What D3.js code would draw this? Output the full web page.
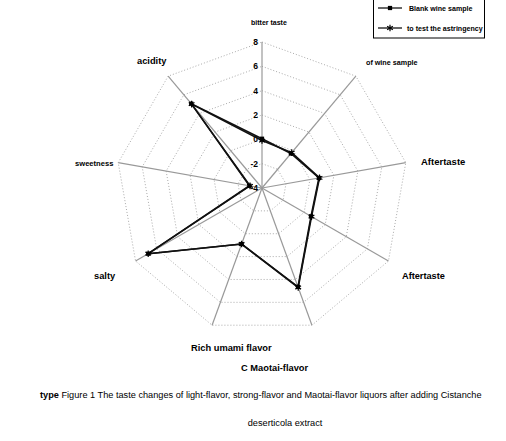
<!DOCTYPE html>
<html><head><meta charset="utf-8">
<script src="https://cdn.jsdelivr.net/npm/d3@7"></script>
<style>body{margin:0;background:#fff}svg{display:block;font-family:"Liberation Sans",Arial,sans-serif}</style>
</head><body><svg id="c" width="506" height="441"></svg>
<script>
const categories = ["bitter taste","of wine sample","Aftertaste","Aftertaste","","Rich umami flavor","salty","sweetness","acidity"];
const blankValues = [0.05, -0.3, 0.75, 0.65, 4.65, 0.9, 6.8, -2.95, 5.05];
const testValues  = [-0.1, -0.2, 0.8, 0.7, 4.7, 0.9, 6.8, -3.0, 5.0];
const tickValues = [-4, -2, 0, 2, 4, 6, 8];
const seriesNames = ["Blank wine sample", "to test the astringency"];
const subtitle = "C Maotai-flavor";
const captionBold = "type";
const captionLine1 = " Figure 1 The taste changes of light-flavor, strong-flavor and Maotai-flavor liquors after adding Cistanche";
const captionLine2 = "deserticola extract";

// layout (label anchor positions, font sizes)
const labelLayout = [
  {x:251, y:23, a:"start", s:7},
  {x:366, y:62, a:"start", s:7.2},
  {x:421, y:162, a:"start", s:9.5},
  {x:402, y:276, a:"start", s:9.2},
  {x:0, y:0, a:"start", s:9},
  {x:191, y:348, a:"start", s:9.3},
  {x:94, y:276, a:"start", s:9.3},
  {x:75, y:163, a:"start", s:7.6},
  {x:137, y:61, a:"start", s:9.3}
];

const svg = d3.select("#c");
const cx = 262, cy = 188, R = 146;
const n = categories.length, step = 2*Math.PI/n;
const r = d3.scaleLinear().domain([-4, 8]).range([0, R]);
const g = svg.append("g").attr("transform", `translate(${cx},${cy})`);

// grid rings
const ring = d3.lineRadial().angle((d,i)=>i*step).radius(d=>d).curve(d3.curveLinearClosed);
tickValues.slice(1).forEach(v => {
  g.append("path").attr("d", ring(d3.range(n).map(()=>r(v))))
    .attr("fill","none").attr("stroke","#aaa").attr("stroke-width",1).attr("stroke-dasharray","1,2");
});
// axes
d3.range(n).forEach(i => {
  const a = i*step;
  g.append("line").attr("x1",0).attr("y1",0)
    .attr("x2", R*Math.sin(a)).attr("y2", -R*Math.cos(a))
    .attr("stroke","#999").attr("stroke-width",1.2);
});
// tick labels
g.selectAll("text.tick").data(tickValues).join("text")
  .attr("x",-4).attr("y",d=>-r(d)).attr("dy","0.35em")
  .attr("text-anchor","end").attr("font-size",8.5).attr("font-weight","bold")
  .text(d=>d);

// series
const line = d3.lineRadial().angle((d,i)=>i*step).radius(d=>r(d)).curve(d3.curveLinearClosed);
[blankValues, testValues].forEach(vals => {
  g.append("path").attr("d", line(vals)).attr("fill","none").attr("stroke","#111").attr("stroke-width",1.6);
});
const pt = (v,i)=>[r(v)*Math.sin(i*step), -r(v)*Math.cos(i*step)];
g.selectAll("path.sq").data(blankValues).join("path")
  .attr("d", d3.symbol(d3.symbolSquare, 18))
  .attr("transform",(d,i)=>`translate(${pt(d,i)})`).attr("fill","#000");
g.selectAll("path.st").data(testValues).join("path")
  .attr("d", d3.symbol(d3.symbolAsterisk, 30))
  .attr("transform",(d,i)=>`translate(${pt(d,i)})`).attr("fill","none").attr("stroke","#000").attr("stroke-width",1.2);

// category labels
categories.forEach((c,i) => {
  if (!c) return;
  const L = labelLayout[i];
  svg.append("text").attr("x",L.x).attr("y",L.y).attr("dy","0.35em")
    .attr("text-anchor",L.a).attr("font-size",L.s).attr("font-weight","bold").text(c);
});
svg.append("text").attr("x",241).attr("y",368).attr("dy","0.35em")
  .attr("font-size",9.3).attr("font-weight","bold").text(subtitle);

// legend
const lg = svg.append("g");
lg.append("rect").attr("x",373.5).attr("y",-1).attr("width",111).attr("height",39)
  .attr("fill","#fff").attr("stroke","#000").attr("stroke-width",1);
seriesNames.forEach((s,i) => {
  const y = i ? 28 : 8;
  lg.append("line").attr("x1",378).attr("x2",402).attr("y1",y).attr("y2",y).attr("stroke","#000").attr("stroke-width",1.2);
  lg.append("path").attr("d", d3.symbol(i ? d3.symbolAsterisk : d3.symbolSquare, i ? 30 : 18))
    .attr("transform",`translate(390,${y})`).attr("fill", i ? "none" : "#000").attr("stroke", i ? "#000" : "none").attr("stroke-width",1.2);
  lg.append("text").attr("x", i ? 407 : 409).attr("y", y+1).attr("dy","0.35em")
    .attr("font-size",7.1).attr("font-weight","bold").text(s);
});

// caption
const cap = svg.append("text").attr("x",40).attr("y",395).attr("dy","0.35em").attr("font-size",9.2);
cap.append("tspan").attr("font-weight","bold").text(captionBold);
cap.append("tspan").text(captionLine1);
svg.append("text").attr("x",285).attr("y",423).attr("dy","0.35em").attr("text-anchor","middle").attr("font-size",9.2).text(captionLine2);
</script></body></html>
